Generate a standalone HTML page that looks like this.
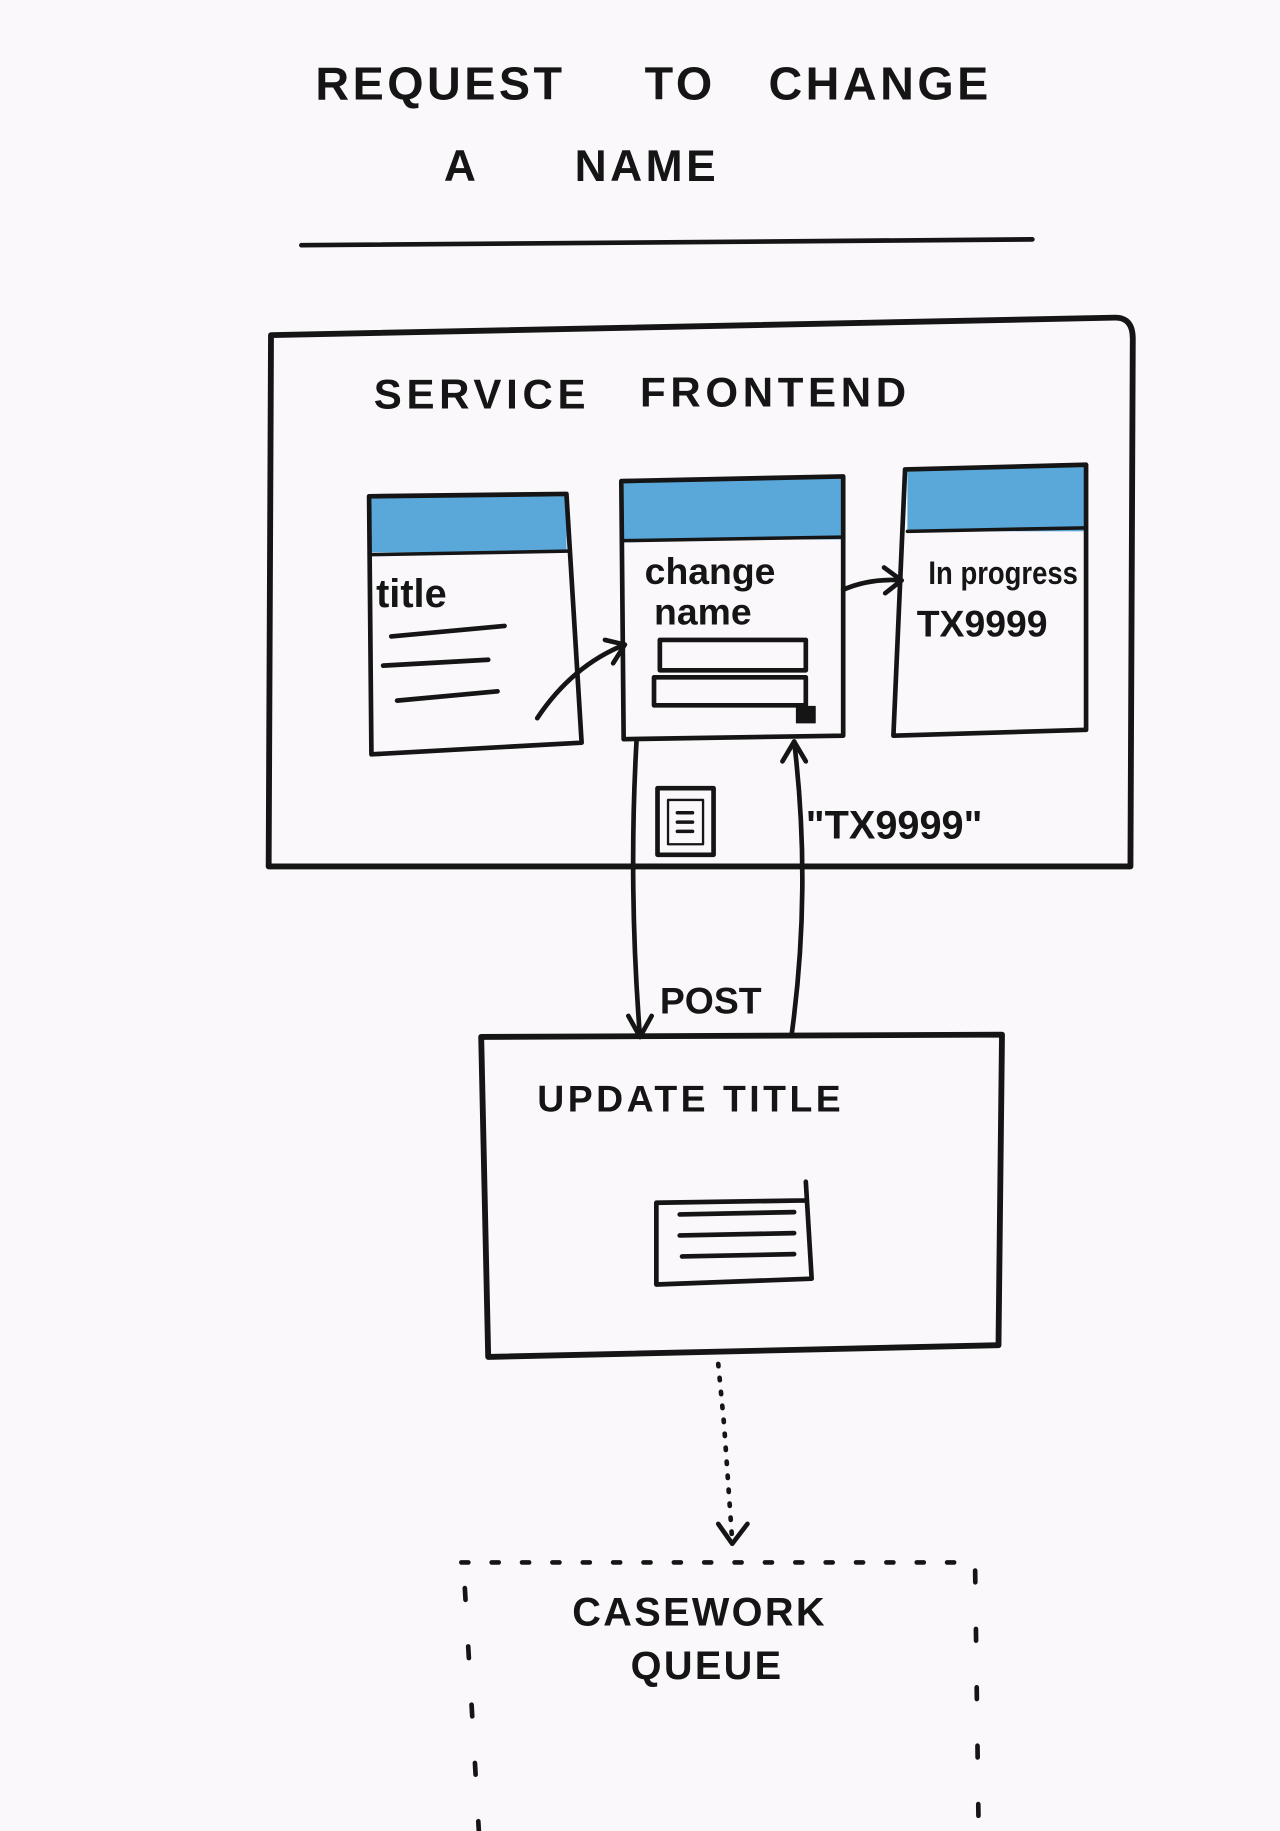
<!DOCTYPE html>
<html><head><meta charset="utf-8"><style>
html,body{margin:0;padding:0;background:#fbf8fb;}
svg{display:block}
text{font-family:"Liberation Sans",sans-serif;fill:#151515;font-weight:bold}
</style></head><body>
<svg width="1280" height="1831" viewBox="0 0 1096 1568" xmlns="http://www.w3.org/2000/svg">
<rect width="1096" height="1568" fill="#fbf8fb"/>
<g stroke="#151515" fill="none" stroke-linecap="round" stroke-linejoin="round">
<text x="270" y="85" font-size="40" letter-spacing="3" stroke="none">REQUEST</text>
<text x="552" y="85" font-size="40" letter-spacing="3" stroke="none">TO</text>
<text x="658" y="85" font-size="40" letter-spacing="3" stroke="none">CHANGE</text>
<text x="380" y="155" font-size="38" stroke="none">A</text>
<text x="492" y="155" font-size="38" letter-spacing="3" stroke="none">NAME</text>
<path d="M258 210 L884 205" stroke-width="4"/>
<path d="M232 287 L955 272 Q970 272 970 290 L968 742 L230 742 Z" stroke-width="5"/>
<text x="320" y="350" font-size="36" letter-spacing="4" stroke="none">SERVICE</text>
<text x="548" y="348" font-size="36" letter-spacing="4" stroke="none">FRONTEND</text>
<rect x="318" y="425" width="167" height="48" fill="#5aa7da" stroke="none"/>
<path d="M316 425 L485 423 L498 636 L318 646 Z" stroke-width="4"/>
<path d="M318 475 L486 472" stroke-width="3"/>
<text x="322" y="520" font-size="34" stroke="none" font-weight="normal">title</text>
<path d="M335 545 L432 536 M328 570 L418 565 M340 600 L426 592" stroke-width="4"/>
<rect x="534" y="410" width="188" height="52" fill="#5aa7da" stroke="none"/>
<path d="M532 412 L722 408 L722 630 L534 633 Z" stroke-width="4"/>
<path d="M534 463 L720 460" stroke-width="3"/>
<text x="552" y="500" font-size="32" stroke="none" font-weight="normal">change</text>
<text x="560" y="535" font-size="32" stroke="none" font-weight="normal">name</text>
<rect x="565" y="548" width="125" height="26" stroke-width="4"/>
<rect x="560" y="580" width="130" height="24" stroke-width="4"/>
<rect x="682" y="605" width="16" height="14" fill="#151515"/>
<rect x="777" y="400" width="153" height="55" fill="#5aa7da" stroke="none"/>
<path d="M775 402 L930 398 L930 625 L765 630 Z" stroke-width="4"/>
<path d="M777 455 L930 452" stroke-width="3"/>
<text x="795" y="500" font-size="28" stroke="none" font-weight="normal" textLength="128" lengthAdjust="spacingAndGlyphs">In progress</text>
<text x="785" y="545" font-size="32" stroke="none" font-weight="normal">TX9999</text>
<path d="M460 615 Q490 570 535 552" stroke-width="4"/>
<path d="M518 548 L535 552 L525 568" stroke-width="4"/>
<path d="M722 505 Q745 495 772 497" stroke-width="4"/>
<path d="M757 486 L772 497 L758 508" stroke-width="4"/>
<rect x="563" y="675" width="48" height="57" stroke-width="4"/>
<rect x="572" y="685" width="30" height="38" stroke-width="2"/>
<path d="M580 696 L593 696 M580 704 L593 704 M580 712 L593 712" stroke-width="3"/>
<path d="M545 635 Q538 760 548 888" stroke-width="4"/>
<path d="M538 870 L548 888 L558 870" stroke-width="4"/>
<path d="M678 885 Q695 760 680 635" stroke-width="4"/>
<path d="M670 652 L680 635 L690 652" stroke-width="4"/>
<text x="690" y="718" font-size="34" stroke="none" font-weight="normal">"TX9999"</text>
<text x="565" y="868" font-size="32" stroke="none">POST</text>
<path d="M412 888 L858 886 L855 1152 L418 1162 Z" stroke-width="5"/>
<text x="460" y="952" font-size="32" letter-spacing="3" stroke="none">UPDATE TITLE</text>
<path d="M562 1030 L562 1100 L695 1095 L690 1012 M562 1030 L690 1028" stroke-width="4"/>
<path d="M582 1040 L680 1038 M582 1058 L680 1056 M584 1076 L680 1074" stroke-width="4"/>
<path d="M615 1168 L620 1220 L627 1320" stroke-width="4" stroke-dasharray="2 10"/>
<path d="M615 1305 L627 1322 L640 1305" stroke-width="4"/>
<path d="M395 1338 L835 1338" stroke-width="4" stroke-dasharray="6 20"/>
<path d="M398 1360 L410 1568" stroke-width="4" stroke-dasharray="10 40"/>
<path d="M835 1345 L838 1568" stroke-width="4" stroke-dasharray="10 40"/>
<text x="490" y="1392" font-size="34" letter-spacing="2" stroke="none">CASEWORK</text>
<text x="540" y="1438" font-size="34" letter-spacing="2" stroke="none">QUEUE</text>
</g>
</svg>
</body></html>
